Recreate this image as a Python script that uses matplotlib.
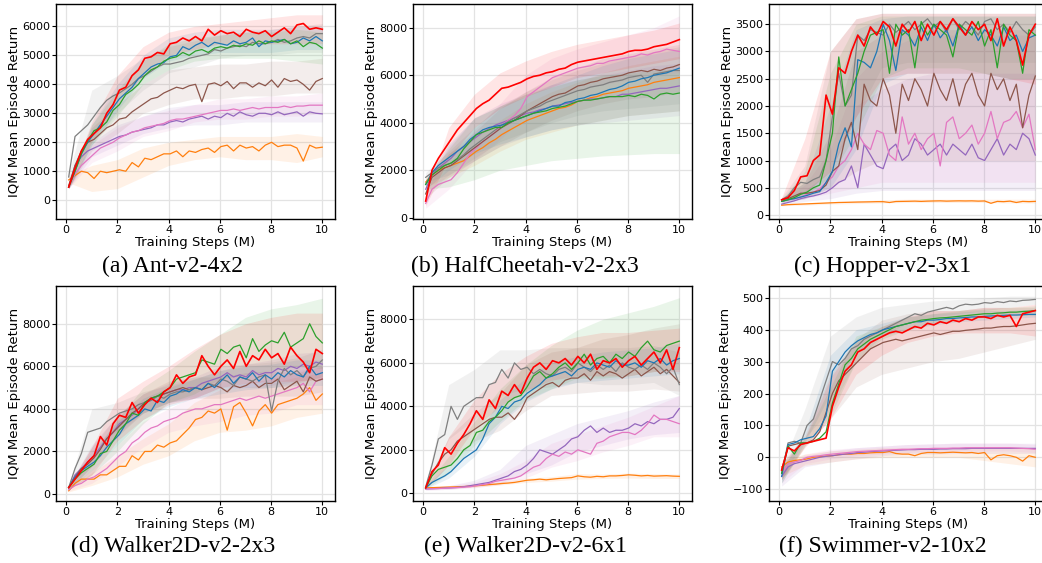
import numpy as np
import matplotlib
matplotlib.use("Agg")
import matplotlib.pyplot as plt

STEPS = np.linspace(0.1, 10.0, 41)
BAND_STEPS = [0.1, 1, 2, 3, 4, 5, 6, 7, 8, 9, 10]
SERIES = ["orange", "purple", "pink", "brown", "gray", "blue", "green", "red"]
COLORS = {"red": "#ff0000", "blue": "#1f77b4", "orange": "#ff7f0e", "green": "#2ca02c",
          "purple": "#9467bd", "brown": "#8c564b", "pink": "#e377c2", "gray": "#7f7f7f"}

# ---------------- (a) Ant-v2-4x2 ----------------
ANT_RED = [450, 1100, 1700, 2100, 2300, 2500, 3000, 3300, 3800, 3900, 4300, 4500, 4900, 4950, 5100, 5050, 5400, 5450, 5600, 5500, 5650, 5500, 5900, 5700, 5850, 5750, 5800, 5650, 5900, 5800, 5750, 5850, 5650, 5800, 5950, 5750, 6050, 6100, 5900, 5950, 5900]
ANT_BLUE = [450, 1000, 1600, 2000, 2300, 2600, 2900, 3200, 3500, 3700, 3900, 4200, 4400, 4600, 4700, 4750, 4950, 5000, 5300, 5200, 5350, 5450, 5300, 5450, 5400, 5350, 5500, 5400, 5450, 5600, 5300, 5500, 5450, 5500, 5550, 5400, 5450, 5600, 5500, 5650, 5500]
ANT_GREEN = [450, 1000, 1600, 2050, 2400, 2500, 2700, 3100, 3300, 3650, 3800, 4000, 4300, 4500, 4600, 4800, 4900, 4950, 5100, 5000, 5150, 5200, 5100, 5250, 5300, 5250, 5350, 5300, 5400, 5350, 5500, 5400, 5500, 5450, 5550, 5400, 5500, 5300, 5450, 5400, 5250]
ANT_GRAY = [800, 2200, 2400, 2600, 2900, 3200, 3450, 3600, 3700, 3850, 4000, 4200, 4300, 4450, 4600, 4700, 4700, 4750, 4800, 4900, 4950, 5000, 5050, 5200, 5150, 5250, 5300, 5350, 5300, 5450, 5400, 5400, 5450, 5550, 5450, 5500, 5600, 5650, 5600, 5750, 5750]
ANT_BROWN = [500, 1200, 1700, 2000, 2100, 2300, 2500, 2600, 2800, 2850, 3050, 3200, 3350, 3500, 3550, 3700, 3800, 3900, 3850, 3950, 4000, 3400, 4000, 4050, 3950, 4100, 3850, 4050, 4050, 3900, 4050, 3950, 4150, 3900, 4200, 4100, 4150, 4000, 3800, 4100, 4200]
ANT_PURPLE = [450, 1200, 1500, 1700, 1800, 1900, 2000, 2100, 2200, 2250, 2350, 2400, 2450, 2500, 2600, 2600, 2700, 2750, 2700, 2800, 2850, 2900, 2800, 2900, 2850, 3000, 2900, 3050, 2950, 2900, 3000, 3000, 2950, 3050, 2950, 3000, 3050, 2900, 3050, 3000, 2980]
ANT_PINK = [450, 900, 1200, 1400, 1600, 1800, 1900, 2000, 2150, 2250, 2350, 2400, 2500, 2550, 2600, 2650, 2750, 2800, 2800, 2850, 2900, 2950, 3000, 3050, 3100, 3100, 3150, 3100, 3150, 3200, 3150, 3200, 3200, 3200, 3250, 3200, 3250, 3250, 3280, 3280, 3280]
ANT_ORANGE = [700, 850, 1000, 950, 750, 1000, 950, 1000, 1050, 1000, 1300, 1150, 1450, 1400, 1500, 1600, 1600, 1700, 1500, 1700, 1650, 1750, 1800, 1650, 1850, 1900, 1700, 1900, 1800, 1850, 1700, 1900, 2000, 1850, 1900, 1900, 1800, 1350, 1900, 1800, 1830]
ANT_RED_LO = [400, 2000, 3300, 4300, 5000, 5200, 5400, 5400, 5400, 5400, 5400]
ANT_RED_HI = [550, 2700, 4300, 5300, 5800, 6000, 6100, 6200, 6300, 6400, 6400]
ANT_BLUE_LO = [400, 1900, 3100, 4200, 4800, 5000, 5100, 5100, 5100, 5200, 5200]
ANT_BLUE_HI = [550, 2600, 4000, 5000, 5600, 5800, 5900, 5900, 5900, 6000, 6000]
ANT_GREEN_LO = [400, 1900, 2900, 4000, 4500, 4800, 4900, 4900, 4900, 4800, 4700]
ANT_GREEN_HI = [550, 2600, 3800, 4800, 5400, 5600, 5700, 5800, 5800, 5900, 5800]
ANT_GRAY_LO = [700, 2000, 3000, 3800, 4400, 4600, 4900, 5000, 5000, 5100, 5100]
ANT_GRAY_HI = [900, 3800, 4300, 4900, 5300, 5500, 5700, 5800, 5900, 6000, 6100]
ANT_BROWN_LO = [400, 1700, 2300, 3000, 3300, 3500, 3500, 3600, 3600, 3700, 3700]
ANT_BROWN_HI = [600, 2500, 3300, 4000, 4500, 4600, 4700, 4700, 4800, 4800, 4900]
ANT_PURPLE_LO = [400, 1500, 1900, 2300, 2500, 2600, 2600, 2700, 2700, 2700, 2700]
ANT_PURPLE_HI = [550, 2000, 2600, 2900, 3200, 3300, 3300, 3400, 3400, 3400, 3400]
ANT_PINK_LO = [400, 1300, 1700, 2200, 2400, 2700, 2800, 2800, 2900, 2900, 3000]
ANT_PINK_HI = [550, 1900, 2500, 2900, 3100, 3300, 3500, 3500, 3600, 3600, 3700]
ANT_ORANGE_LO = [600, 300, 400, 800, 1200, 1400, 1500, 1400, 1400, 1300, 1500]
ANT_ORANGE_HI = [850, 1200, 1400, 1800, 2000, 2100, 2200, 2200, 2200, 2300, 2200]

# ---------------- (b) HalfCheetah-v2-2x3 ----------------
HC_RED = [700, 2000, 2500, 2900, 3300, 3700, 4000, 4300, 4600, 4800, 4950, 5200, 5450, 5500, 5600, 5700, 5850, 5950, 6000, 6100, 6150, 6250, 6300, 6450, 6550, 6600, 6650, 6700, 6750, 6800, 6850, 6900, 7000, 7050, 7050, 7100, 7200, 7250, 7300, 7400, 7500]
HC_PINK = [600, 1200, 1400, 1500, 1600, 1900, 2300, 2700, 2950, 3200, 3400, 3600, 3900, 4100, 4300, 4600, 5100, 5300, 5500, 5700, 5900, 6000, 6100, 6200, 6300, 6350, 6400, 6500, 6500, 6600, 6650, 6700, 6750, 6800, 6900, 6850, 6950, 7000, 7100, 7050, 7000]
HC_BROWN = [1000, 1700, 1900, 2100, 2200, 2400, 2600, 2800, 3000, 3200, 3400, 3600, 3800, 3950, 4100, 4300, 4500, 4650, 4800, 4950, 5100, 5200, 5250, 5400, 5550, 5600, 5700, 5750, 5850, 5900, 5950, 6000, 6100, 6150, 6200, 6150, 6250, 6200, 6300, 6350, 6450]
HC_GRAY = [1700, 1900, 2100, 2200, 2300, 2450, 2650, 2900, 3100, 3300, 3500, 3700, 3900, 4050, 4200, 4350, 4500, 4600, 4700, 4850, 4950, 5050, 5150, 5250, 5350, 5400, 5500, 5550, 5600, 5700, 5750, 5800, 5900, 5950, 6000, 5700, 6050, 6100, 6150, 6200, 6200]
HC_BLUE = [1400, 1900, 2200, 2400, 2600, 2800, 3000, 3300, 3500, 3700, 3800, 3850, 3900, 4000, 4100, 4200, 4300, 4400, 4500, 4600, 4700, 4700, 4850, 4900, 5000, 5050, 5150, 5200, 5300, 5400, 5450, 5550, 5700, 5750, 5850, 5900, 6000, 6050, 6100, 6200, 6300]
HC_PURPLE = [1200, 1800, 2100, 2300, 2500, 2800, 3000, 3200, 3400, 3600, 3750, 3900, 4000, 4100, 4200, 4300, 4400, 4450, 4550, 4600, 4700, 4750, 4800, 4850, 4900, 4950, 5000, 5000, 5050, 5100, 5100, 5200, 5200, 5250, 5300, 5350, 5400, 5450, 5450, 5500, 5550]
HC_ORANGE = [1500, 1800, 2000, 2100, 2200, 2300, 2400, 2600, 2800, 2950, 3150, 3300, 3500, 3650, 3800, 3950, 4100, 4200, 4300, 4400, 4500, 4600, 4650, 4750, 4900, 4950, 5050, 5100, 5200, 5250, 5300, 5350, 5450, 5500, 5550, 5600, 5700, 5750, 5800, 5850, 5900]
HC_GREEN = [1400, 1800, 2000, 2200, 2300, 2500, 2900, 3200, 3500, 3600, 3700, 3800, 3800, 4000, 4100, 4200, 4300, 4400, 4450, 4500, 4600, 4650, 4700, 4800, 4900, 4950, 4950, 5000, 5050, 5100, 5100, 5100, 5150, 5100, 5200, 5150, 5000, 5200, 5250, 5200, 5250]
HC_RED_LO = [500, 2500, 3800, 4600, 5100, 5500, 5900, 6100, 6300, 6500, 6700]
HC_RED_HI = [900, 3800, 5200, 6100, 6600, 7000, 7300, 7500, 7700, 7900, 8200]
HC_PINK_LO = [400, 1200, 2400, 3300, 4300, 5000, 5400, 5600, 5800, 6000, 6100]
HC_PINK_HI = [800, 2200, 3700, 4800, 6000, 6700, 7100, 7400, 7700, 8000, 8500]
HC_BROWN_LO = [800, 1700, 2400, 3000, 3600, 4100, 4500, 4800, 5000, 5100, 5300]
HC_BROWN_HI = [1200, 2700, 3600, 4600, 5300, 5900, 6300, 6700, 6900, 7100, 7300]
HC_GRAY_LO = [1500, 1800, 2500, 3200, 3600, 4000, 4300, 4500, 4600, 4700, 4800]
HC_GRAY_HI = [1900, 2800, 3800, 4700, 5300, 5800, 6200, 6500, 6800, 7000, 7200]
HC_BLUE_LO = [1200, 2000, 2700, 3100, 3400, 3700, 3900, 4100, 4300, 4400, 4500]
HC_BLUE_HI = [1600, 3100, 4200, 4700, 5100, 5600, 6000, 6400, 6700, 6900, 7100]
HC_PURPLE_LO = [1000, 1800, 2400, 3000, 3400, 3700, 3900, 4000, 4100, 4200, 4300]
HC_PURPLE_HI = [1400, 3000, 4200, 4800, 5200, 5600, 5800, 6000, 6200, 6400, 6500]
HC_ORANGE_LO = [1300, 1700, 2200, 2800, 3300, 3600, 3900, 4100, 4300, 4400, 4500]
HC_ORANGE_HI = [1700, 2700, 3400, 4100, 4800, 5300, 5700, 6100, 6400, 6600, 6800]
HC_GREEN_LO = [1200, 1300, 1600, 2000, 2200, 2400, 2500, 2600, 2650, 2700, 2700]
HC_GREEN_HI = [1600, 2900, 4200, 4700, 5200, 5500, 5800, 6000, 6100, 6200, 6300]

# ---------------- (c) Hopper-v2-3x1 ----------------
HOP_RED = [280, 320, 450, 700, 720, 1000, 1100, 2200, 1850, 2700, 2600, 3000, 3300, 3100, 3450, 3300, 3550, 3450, 3100, 3500, 3350, 3550, 3200, 3500, 3300, 3550, 3400, 3600, 3450, 3300, 3550, 3400, 3500, 3200, 3600, 3100, 3450, 3200, 2750, 3300, 3500]
HOP_GREEN = [250, 280, 320, 380, 420, 500, 550, 1000, 1500, 2900, 2000, 2300, 2600, 3000, 3300, 3350, 3400, 2600, 3500, 3300, 3400, 2700, 3550, 3300, 3500, 3400, 3300, 2900, 3500, 3400, 3300, 3550, 3100, 3400, 2700, 3500, 3300, 3200, 2600, 3400, 3300]
HOP_BLUE = [250, 280, 300, 330, 360, 400, 430, 600, 800, 1300, 1600, 1250, 2850, 2800, 2700, 3000, 3500, 3200, 2650, 3400, 3300, 3100, 3450, 3200, 3500, 3250, 3400, 3100, 3500, 3300, 3450, 3200, 3400, 3300, 3100, 3450, 3200, 3300, 3000, 3250, 3300]
HOP_GRAY = [280, 350, 500, 600, 580, 650, 700, 1000, 1800, 2600, 2000, 2200, 3300, 3200, 3400, 3350, 3300, 3500, 3350, 3450, 3550, 3400, 3500, 3600, 3450, 3550, 3350, 3600, 3400, 3550, 3450, 3300, 3550, 3600, 3400, 3500, 3350, 3550, 3400, 3300, 3450]
HOP_BROWN = [280, 300, 350, 400, 400, 420, 450, 550, 800, 900, 1400, 1700, 1200, 2400, 2100, 2000, 2500, 2200, 1500, 2400, 2100, 2500, 2300, 2000, 2600, 2300, 2100, 2500, 2000, 2400, 2600, 2200, 2000, 2600, 2300, 2500, 2100, 2400, 1600, 2200, 2550]
HOP_PINK = [250, 280, 300, 330, 380, 420, 480, 600, 700, 900, 1000, 1200, 1500, 1300, 1200, 1550, 1500, 1100, 1000, 1800, 1300, 1500, 1200, 1400, 1500, 900, 1700, 1800, 1400, 1500, 1650, 1300, 1500, 1900, 1400, 1700, 1750, 1900, 1600, 1850, 1200]
HOP_PURPLE = [200, 230, 260, 300, 330, 350, 380, 420, 500, 600, 650, 900, 500, 1300, 1100, 900, 850, 1200, 1300, 1000, 1100, 1400, 1300, 1100, 1200, 1300, 1100, 1300, 1200, 1100, 1300, 1050, 1000, 1200, 1400, 1100, 1300, 1200, 1500, 1400, 1100]
HOP_ORANGE = [180, 190, 195, 200, 205, 210, 215, 220, 225, 230, 232, 235, 238, 240, 242, 245, 245, 230, 248, 250, 252, 255, 250, 255, 258, 260, 255, 258, 260, 258, 260, 255, 258, 215, 250, 245, 255, 230, 250, 245, 250]
HOP_RED_LO = [250, 400, 800, 1800, 2500, 2600, 2600, 2600, 2600, 2500, 2400]
HOP_RED_HI = [320, 1400, 3000, 3600, 3700, 3700, 3700, 3700, 3700, 3700, 3700]
HOP_GREEN_LO = [230, 350, 700, 1500, 2500, 2700, 2700, 2700, 2600, 2500, 2500]
HOP_GREEN_HI = [280, 800, 2600, 3500, 3650, 3650, 3650, 3650, 3650, 3650, 3650]
HOP_BLUE_LO = [230, 300, 500, 1200, 2400, 2600, 2600, 2600, 2600, 2500, 2500]
HOP_BLUE_HI = [280, 600, 2000, 3400, 3600, 3650, 3650, 3650, 3650, 3650, 3650]
HOP_GRAY_LO = [250, 400, 800, 1800, 2700, 2800, 2800, 2800, 2800, 2800, 2800]
HOP_GRAY_HI = [320, 900, 3000, 3600, 3700, 3700, 3700, 3700, 3700, 3700, 3700]
HOP_BROWN_LO = [250, 300, 500, 800, 1000, 1000, 1000, 1000, 1000, 1000, 1000]
HOP_BROWN_HI = [320, 600, 1500, 3000, 3300, 3400, 3400, 3400, 3400, 3400, 3400]
HOP_PINK_LO = [220, 300, 400, 500, 600, 600, 600, 600, 600, 600, 600]
HOP_PINK_HI = [280, 550, 1200, 2500, 3000, 3200, 3300, 3300, 3300, 3300, 3300]
HOP_PURPLE_LO = [180, 250, 300, 400, 450, 450, 450, 450, 450, 450, 450]
HOP_PURPLE_HI = [230, 450, 800, 2000, 2300, 2500, 2600, 2600, 2600, 2600, 2600]
HOP_ORANGE_LO = [170, 180, 200, 210, 220, 230, 230, 230, 230, 220, 220]
HOP_ORANGE_HI = [200, 210, 240, 260, 280, 290, 290, 290, 290, 290, 290]

# ---------------- (d) Walker2D-v2-2x3 ----------------
W23_RED = [300, 700, 1100, 1500, 1800, 2700, 2300, 3300, 3700, 3600, 4300, 3800, 4200, 4500, 4300, 4800, 5000, 5600, 5200, 5500, 5600, 6500, 6000, 5600, 6000, 6300, 5900, 6700, 6000, 6500, 6300, 6800, 6400, 6600, 6100, 6900, 6500, 6200, 5700, 6800, 6600]
W23_GREEN = [300, 700, 1000, 1200, 1400, 1900, 2000, 2500, 3000, 3300, 3800, 3700, 4300, 4500, 4600, 4800, 5000, 5400, 5500, 5600, 5700, 6300, 6200, 6100, 6800, 6600, 6900, 7000, 6400, 7300, 6700, 7000, 7200, 7100, 7600, 6900, 7100, 7300, 8000, 7400, 7100]
W23_BLUE = [300, 800, 1100, 1300, 1500, 1800, 2200, 2500, 2800, 3300, 3500, 3700, 4000, 3900, 4400, 4300, 4600, 4700, 4900, 4800, 5000, 4900, 5200, 5000, 5300, 5600, 5200, 5500, 5400, 5700, 5300, 5600, 5400, 5700, 5500, 5800, 5600, 5500, 6000, 5600, 5700]
W23_GRAY = [300, 1200, 1900, 2900, 3000, 3100, 3400, 3600, 3800, 3900, 4000, 4200, 4300, 4400, 4600, 4500, 4700, 4800, 4800, 4900, 5000, 4900, 5200, 5100, 5400, 5300, 5100, 5500, 5400, 5300, 5500, 5600, 3900, 5300, 5900, 5600, 5800, 5500, 5900, 6000, 6300]
W23_PURPLE = [300, 900, 1200, 1500, 1800, 2200, 2600, 2900, 3300, 3500, 3700, 4000, 4300, 4400, 4600, 4700, 4800, 4900, 4900, 5000, 5000, 5200, 5300, 5400, 5500, 5700, 5500, 5600, 5500, 5800, 5600, 5700, 5700, 5900, 5800, 6000, 5900, 6100, 6000, 6200, 6100]
W23_BROWN = [300, 800, 1200, 1400, 1700, 2100, 2600, 2900, 3200, 3500, 3800, 4000, 4300, 4500, 4600, 4700, 4800, 4900, 5000, 4900, 5000, 4900, 5000, 5100, 5000, 4800, 5100, 5000, 5100, 5300, 5000, 5200, 5200, 5400, 4900, 5100, 5300, 4800, 5500, 5300, 5400]
W23_PINK = [200, 400, 500, 700, 800, 1000, 1200, 1500, 1800, 2000, 2400, 2600, 2900, 3100, 3200, 3400, 3500, 3600, 3800, 3900, 4000, 4000, 4100, 4200, 4200, 4300, 4400, 4500, 4400, 4500, 4600, 4500, 4600, 4700, 4800, 4900, 5000, 5200, 4800, 5300, 5400]
W23_ORANGE = [150, 500, 700, 700, 700, 900, 900, 1100, 1300, 1300, 1800, 1600, 2000, 2000, 2300, 2200, 2400, 2500, 2800, 3100, 3500, 3600, 3900, 3800, 4000, 3000, 4100, 4300, 3800, 3200, 3900, 4200, 3800, 4200, 4300, 4400, 4500, 4700, 5000, 4400, 4700]
W23_RED_LO = [200, 900, 2500, 3500, 4200, 4500, 5000, 5200, 5300, 5300, 5400]
W23_RED_HI = [400, 2200, 4500, 5300, 6000, 6800, 7500, 8000, 8300, 8500, 8500]
W23_GREEN_LO = [200, 900, 2000, 3300, 4300, 4700, 5400, 5600, 5800, 6000, 5900]
W23_GREEN_HI = [400, 1800, 3500, 5000, 5800, 6700, 7500, 8300, 8700, 8900, 9200]
W23_BLUE_LO = [200, 1100, 2300, 3500, 4100, 4500, 4700, 4900, 5000, 5100, 5100]
W23_BLUE_HI = [400, 2000, 3400, 4500, 5000, 5400, 5800, 6000, 6100, 6300, 6300]
W23_GRAY_LO = [200, 2000, 3000, 3800, 4300, 4600, 4900, 5000, 5000, 5200, 5500]
W23_GRAY_HI = [400, 4000, 4300, 4800, 5100, 5400, 5800, 6100, 6200, 6400, 6800]
W23_PURPLE_LO = [200, 1300, 2800, 3800, 4300, 4500, 5000, 5000, 5100, 5300, 5500]
W23_PURPLE_HI = [400, 2300, 3700, 4700, 5200, 5500, 6000, 6100, 6300, 6600, 6700]
W23_BROWN_LO = [200, 1300, 2700, 3800, 4300, 4500, 4500, 4600, 4600, 4600, 4800]
W23_BROWN_HI = [400, 2200, 3700, 4700, 5300, 5500, 5500, 5700, 5800, 5700, 6000]
W23_PINK_LO = [150, 500, 1300, 2200, 2900, 3200, 3400, 3700, 3800, 4200, 4200]
W23_PINK_HI = [250, 1100, 2300, 3400, 4000, 4600, 4900, 5200, 5400, 5800, 6000]
W23_ORANGE_LO = [100, 400, 800, 1400, 1800, 2500, 2900, 3000, 3200, 3600, 3800]
W23_ORANGE_HI = [200, 1000, 1800, 2600, 3300, 4300, 4900, 5000, 5200, 5500, 5700]

# ---------------- (e) Walker2D-v2-6x1 ----------------
W61_GRAY = [300, 1300, 2500, 2700, 4000, 3400, 4000, 4200, 4400, 4400, 5000, 5100, 5700, 5300, 6000, 5700, 5800, 5500, 5700, 5500, 5400, 5700, 5800, 5600, 6000, 5800, 5600, 5900, 5700, 5900, 5600, 6000, 5800, 5700, 5900, 5700, 6000, 5800, 5500, 5800, 5000]
W61_RED = [250, 1000, 1300, 2100, 1800, 2300, 2700, 3200, 3800, 3400, 4300, 3900, 4700, 4500, 5000, 4600, 5300, 5800, 6000, 5700, 6100, 6000, 6200, 5900, 6300, 6000, 6400, 5700, 6100, 6000, 6200, 5800, 6100, 6300, 5900, 6200, 6500, 6000, 6600, 5700, 6700]
W61_GREEN = [250, 800, 1100, 1200, 1300, 1600, 2000, 2200, 2800, 2900, 3300, 3500, 3800, 4200, 4400, 4500, 4900, 5400, 5600, 5300, 5500, 5800, 6000, 5700, 6000, 6400, 5900, 6200, 6300, 6000, 6400, 6200, 6500, 6300, 6700, 7000, 6600, 6500, 6800, 6900, 7000]
W61_BLUE = [250, 500, 650, 800, 1000, 1300, 1600, 1800, 2000, 2500, 3200, 3500, 4000, 3900, 4200, 4300, 4600, 4800, 5000, 5300, 5400, 5500, 5600, 5400, 5700, 5800, 5700, 6000, 5900, 5800, 6100, 5900, 5900, 6000, 5800, 6100, 6000, 6200, 5900, 6100, 6200]
W61_BROWN = [250, 900, 1400, 1800, 2000, 2400, 2600, 2800, 3000, 3200, 3400, 3500, 3500, 3700, 3400, 3800, 4400, 4600, 4800, 5000, 5100, 4900, 5200, 5300, 5300, 5500, 5200, 5600, 5400, 5600, 5500, 5300, 5500, 5700, 5400, 5600, 5800, 5500, 5700, 5400, 5100]
W61_PURPLE = [200, 210, 220, 240, 250, 270, 300, 350, 400, 450, 500, 600, 700, 800, 1000, 1100, 1300, 1600, 2000, 1900, 1800, 2000, 2200, 2500, 2600, 2900, 3100, 2800, 3000, 2800, 2900, 2900, 3000, 3200, 3100, 3300, 3200, 3400, 3400, 3500, 3900]
W61_PINK = [200, 210, 220, 230, 250, 260, 280, 300, 350, 400, 450, 550, 600, 650, 700, 800, 1000, 1200, 1300, 1600, 1800, 1700, 1900, 1800, 2000, 1900, 1800, 2300, 2400, 2600, 2700, 2800, 2800, 2700, 2900, 3200, 3600, 3400, 3400, 3300, 3200]
W61_ORANGE = [250, 260, 270, 280, 290, 300, 310, 330, 350, 370, 400, 420, 450, 470, 500, 550, 600, 620, 650, 620, 650, 680, 700, 720, 800, 760, 740, 780, 760, 800, 800, 820, 850, 830, 800, 820, 790, 800, 810, 790, 780]
W61_RED_LO = [200, 1300, 3000, 4000, 4700, 5200, 5400, 5400, 5400, 5600, 5600]
W61_RED_HI = [350, 2600, 4300, 5500, 6300, 6900, 7200, 7400, 7400, 7500, 7600]
W61_GREEN_LO = [200, 900, 2200, 3300, 4300, 4800, 5300, 5300, 5400, 5600, 5700]
W61_GREEN_HI = [350, 1700, 3300, 4800, 5900, 6800, 7500, 8000, 8300, 8600, 9000]
W61_BLUE_LO = [200, 700, 1700, 3200, 4200, 4800, 5100, 5200, 5300, 5400, 5500]
W61_BLUE_HI = [350, 1300, 2500, 4300, 5300, 6000, 6300, 6500, 6600, 6700, 6900]
W61_GRAY_LO = [200, 2500, 3400, 4500, 4800, 4900, 5100, 5000, 5000, 5100, 4500]
W61_GRAY_HI = [400, 5000, 5700, 6600, 6600, 6700, 6700, 6700, 6700, 6800, 6500]
W61_BROWN_LO = [200, 1300, 2400, 2900, 3800, 4500, 4600, 4700, 4700, 4800, 4700]
W61_BROWN_HI = [350, 2600, 3700, 4600, 5900, 6500, 6700, 7100, 7300, 7600, 7800]
W61_PURPLE_LO = [150, 180, 300, 450, 900, 1300, 1900, 2200, 2500, 2700, 2800]
W61_PURPLE_HI = [250, 350, 600, 1100, 2200, 2700, 3200, 3500, 3800, 4200, 4500]
W61_PINK_LO = [150, 180, 250, 400, 700, 1200, 1500, 1900, 2200, 2600, 2600]
W61_PINK_HI = [250, 350, 500, 900, 1500, 2300, 2700, 3100, 3500, 4000, 4500]
W61_ORANGE_LO = [200, 230, 280, 380, 500, 560, 650, 680, 700, 680, 680]
W61_ORANGE_HI = [300, 330, 420, 520, 700, 760, 900, 880, 930, 900, 880]

# ---------------- (f) Swimmer-v2-10x2 ----------------
SW_GRAY = [-50, 45, 50, 45, 100, 120, 180, 240, 300, 290, 310, 340, 350, 370, 380, 390, 400, 410, 420, 430, 440, 450, 445, 455, 460, 465, 470, 465, 475, 480, 478, 480, 485, 483, 488, 485, 490, 488, 492, 493, 495]
SW_BLUE = [-60, 40, 45, 55, 60, 65, 90, 130, 270, 300, 330, 350, 365, 375, 385, 390, 400, 405, 410, 415, 420, 425, 425, 430, 430, 432, 435, 435, 437, 438, 440, 440, 442, 443, 444, 445, 446, 446, 447, 448, 448]
SW_GREEN = [-50, 35, 10, 45, 45, 50, 60, 80, 170, 230, 290, 310, 340, 355, 370, 380, 390, 400, 410, 415, 420, 425, 430, 432, 435, 437, 438, 440, 442, 444, 446, 448, 450, 450, 452, 453, 455, 455, 457, 458, 460]
SW_RED = [-40, 30, 20, 40, 45, 50, 55, 60, 160, 220, 270, 290, 330, 340, 360, 370, 380, 390, 395, 390, 400, 410, 405, 420, 415, 425, 420, 430, 425, 435, 430, 440, 440, 435, 445, 440, 445, 410, 450, 455, 460]
SW_BROWN = [-40, 35, 40, 45, 45, 55, 80, 140, 200, 240, 260, 280, 300, 320, 340, 350, 360, 365, 370, 365, 370, 375, 380, 385, 390, 385, 390, 395, 395, 398, 400, 402, 405, 405, 408, 410, 410, 412, 415, 418, 420]
SW_PURPLE = [-60, -30, -20, -15, -10, -5, 0, 3, 5, 8, 10, 12, 15, 16, 18, 19, 20, 21, 22, 23, 24, 24, 25, 25, 25, 26, 26, 27, 27, 27, 28, 28, 28, 28, 28, 28, 28, 28, 28, 28, 28]
SW_PINK = [-50, -20, -15, -10, 0, 3, 5, 8, 10, 12, 14, 16, 18, 19, 20, 21, 22, 23, 24, 25, 25, 26, 27, 27, 28, 28, 28, 29, 29, 30, 30, 30, 30, 30, 30, 30, 30, 29, 28, 27, 25]
SW_ORANGE = [-30, -15, -10, -8, -5, 0, 2, 4, 5, 8, 10, 10, 12, 12, 14, 15, 15, 18, 12, 10, 10, 5, 12, 15, 15, 14, 15, 16, 15, 14, 15, 12, 15, -8, 5, 8, 5, 0, -12, 5, 0]
SW_GRAY_LO = [-70, 60, 150, 300, 380, 420, 440, 450, 460, 470, 480]
SW_GRAY_HI = [-30, 150, 380, 440, 470, 480, 490, 495, 500, 505, 505]
SW_BLUE_LO = [-80, 45, 200, 330, 380, 400, 415, 425, 430, 435, 440]
SW_BLUE_HI = [-40, 80, 320, 400, 420, 440, 450, 455, 460, 460, 465]
SW_GREEN_LO = [-80, 35, 130, 300, 370, 400, 420, 430, 440, 445, 445]
SW_GREEN_HI = [-30, 60, 220, 380, 410, 440, 450, 460, 465, 470, 475]
SW_RED_LO = [-70, 30, 120, 260, 320, 360, 380, 390, 390, 390, 380]
SW_RED_HI = [-20, 60, 250, 360, 410, 440, 460, 460, 470, 470, 480]
SW_BROWN_LO = [-70, 35, 120, 220, 260, 280, 300, 310, 330, 350, 370]
SW_BROWN_HI = [-20, 70, 260, 370, 430, 450, 460, 460, 470, 470, 470]
SW_PURPLE_LO = [-90, -30, -15, -5, 5, 10, 10, 12, 12, 12, 12]
SW_PURPLE_HI = [-40, 5, 20, 30, 35, 40, 42, 44, 44, 44, 44]
SW_PINK_LO = [-80, -20, -5, 5, 10, 15, 18, 20, 20, 20, 15]
SW_PINK_HI = [-30, 10, 25, 30, 35, 40, 42, 45, 45, 45, 40]
SW_ORANGE_LO = [-60, -25, -15, -5, 0, 0, 0, 0, -10, -20, -30]
SW_ORANGE_HI = [-10, 10, 20, 25, 30, 30, 30, 30, 30, 30, 30]

PANELS = [
    ("ANT", "(a) Ant-v2-4x2", (-649, 6773), [0, 1000, 2000, 3000, 4000, 5000, 6000]),
    ("HC", "(b) HalfCheetah-v2-2x3", (-55, 9000), [0, 2000, 4000, 6000, 8000]),
    ("HOP", "(c) Hopper-v2-3x1", (-73, 3871), [0, 500, 1000, 1500, 2000, 2500, 3000, 3500]),
    ("W23", "(d) Walker2D-v2-2x3", (-329, 9774), [0, 2000, 4000, 6000, 8000]),
    ("W61", "(e) Walker2D-v2-6x1", (-355, 9537), [0, 2000, 4000, 6000, 8000]),
    ("SW", "(f) Swimmer-v2-10x2", (-137, 537), [-100, 0, 100, 200, 300, 400, 500]),
]

W, H = 1042, 563
fig = plt.figure(figsize=(W / 100, H / 100), dpi=100)
col_left = [56, 413, 769]
row_top = [4, 286]
cap_x = [173, 525, 883]
cap_y = [266, 546]
ax_w, ax_h = 279, 215

g = globals()
for k, (pref, caption, ylim, yticks) in enumerate(PANELS):
    r, c = divmod(k, 3)
    ax = fig.add_axes([col_left[c] / W, 1 - (row_top[r] + ax_h) / H, ax_w / W, ax_h / H])
    for name in SERIES:
        key = f"{pref}_{name.upper()}"
        lo, hi = g[key + "_LO"], g[key + "_HI"]
        ax.fill_between(BAND_STEPS, lo, hi, color=COLORS[name], alpha=0.1, linewidth=0)
    for name in SERIES:
        key = f"{pref}_{name.upper()}"
        lw = 1.2 if name == "red" else 0.9
        ax.plot(STEPS, g[key], color=COLORS[name], linewidth=lw, zorder=3)
    ax.set_xlim(-0.395, 10.495)
    ax.set_ylim(*ylim)
    ax.set_xticks([0, 2, 4, 6, 8, 10])
    ax.set_yticks(yticks)
    ax.tick_params(labelsize=8, length=2.7, width=0.8, pad=1.3)
    ax.grid(True, color="#e3e3e3", linewidth=0.9)
    ax.set_axisbelow(True)
    for s in ax.spines.values():
        s.set_linewidth(1.0)
        s.set_color("black")
    ax.set_xlabel("Training Steps (M)", fontsize=9.5, labelpad=1.0)
    ax.set_ylabel("IQM Mean Episode Return", fontsize=9.5, labelpad=0.8)
    fig.text(cap_x[c] / W, 1 - cap_y[r] / H, caption, ha="center", va="center",
             fontsize=17, family="Liberation Serif")

fig.savefig("out.png", dpi=100)
